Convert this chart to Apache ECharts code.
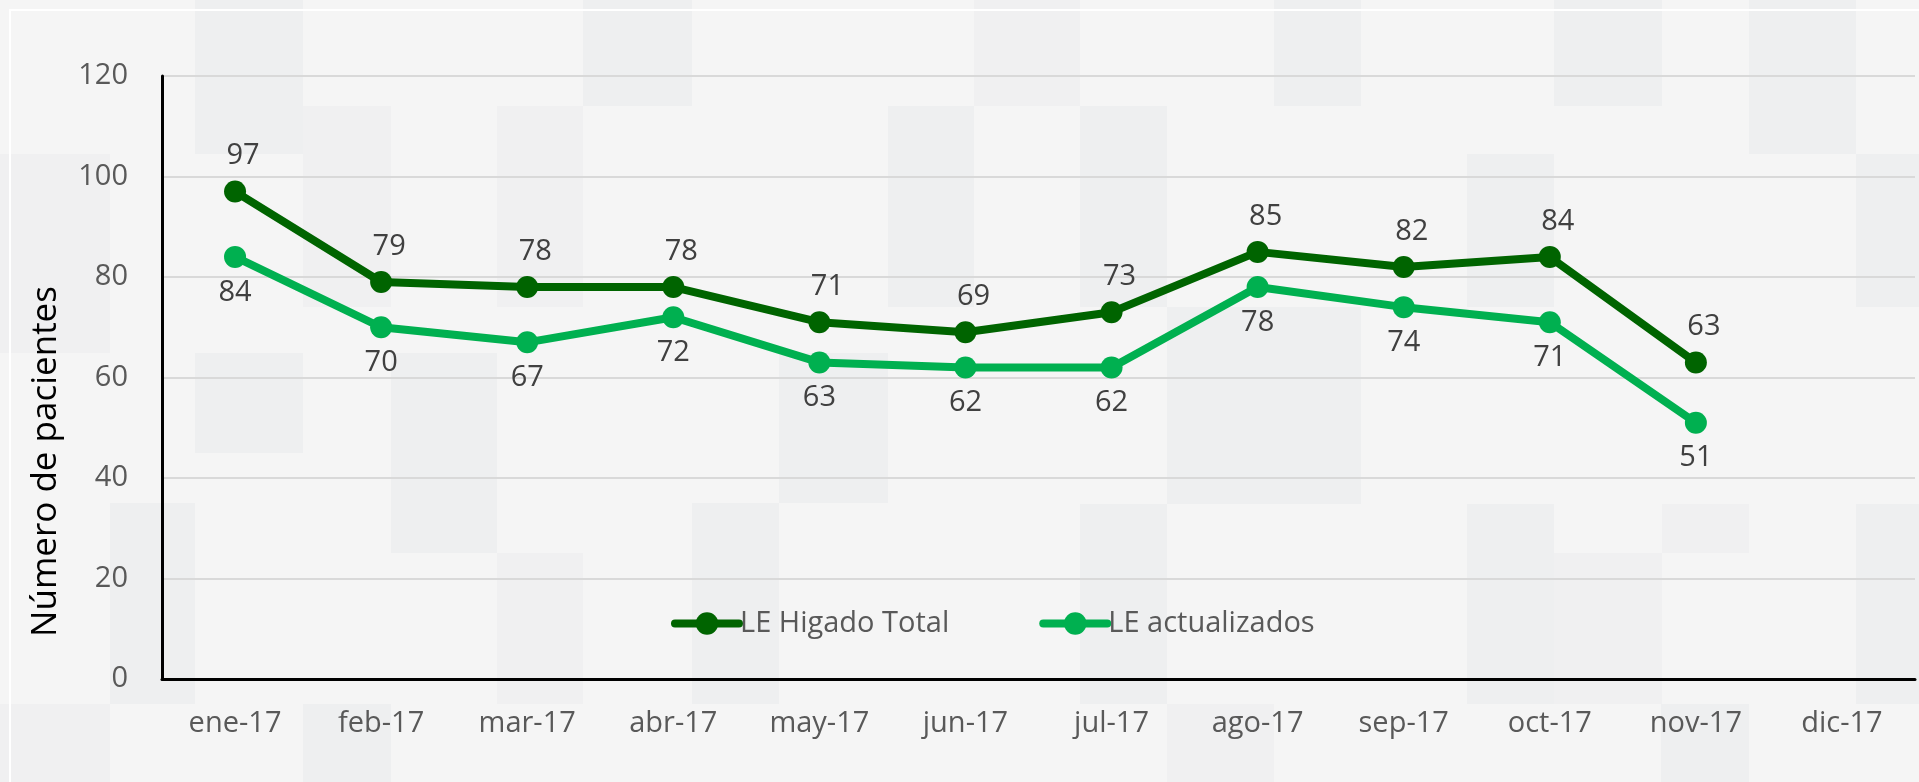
<!DOCTYPE html>
<html>
<head>
<meta charset="utf-8">
<script src="https://cdn.jsdelivr.net/npm/echarts@6/dist/echarts.min.js"></script>
<style>
  html, body { margin: 0; padding: 0; background: #f4f4f4; }
  #chart { width: 1919px; height: 782px; }
</style>
</head>
<body>
<div id="chart"></div>
<script>
// meses
const months = ['ene-17', 'feb-17', 'mar-17', 'abr-17', 'may-17', 'jun-17',
  'jul-17', 'ago-17', 'sep-17', 'oct-17', 'nov-17', 'dic-17']
// LE Higado Total
const higadoTotal = [97, 79, 78, 78, 71, 69, 73, 85, 82, 84, 63, null]
// LE actualizados
const actualizados = [84, 70, 67, 72, 63, 62, 62, 78, 74, 71, 51, null]
const yTicks = [0, 20, 40, 60, 80, 100, 120]

// textura de fondo (bloques grises), solo decorativo: [x, y, w, h, tono]
const mosaico = [
  [195, 0, 108, 154, 0], [583, 0, 109, 106, 0], [888, 106, 86, 201, 0],
  [497, 106, 86, 201, 1], [303, 106, 88, 201, 1], [0, 154, 110, 199, 1],
  [195, 353, 108, 100, 0], [391, 353, 106, 200, 0], [779, 353, 109, 150, 0],
  [110, 503, 85, 201, 0], [497, 553, 86, 151, 1], [692, 503, 87, 201, 0],
  [303, 704, 88, 78, 0], [0, 704, 110, 78, 1],
  [974, 0, 106, 106, 1], [1274, 0, 87, 106, 0], [1554, 0, 108, 106, 0],
  [1749, 0, 107, 154, 0], [1080, 106, 87, 201, 0], [1467, 154, 87, 153, 0],
  [1856, 154, 63, 153, 0], [1167, 307, 194, 197, 0], [1080, 504, 87, 200, 0],
  [1467, 504, 87, 200, 0], [1662, 504, 87, 49, 1], [1856, 504, 63, 200, 0],
  [1554, 553, 108, 151, 1], [1167, 704, 107, 78, 1], [1661, 704, 88, 78, 0]
]
const tonos = ['#eeeff0', '#f0f0f1']

const font = '"Open Sans", sans-serif'
const chart = echarts.init(document.getElementById('chart'))

const fondo = mosaico.map(b => ({
  type: 'rect',
  shape: { x: b[0], y: b[1], width: b[2], height: b[3] },
  style: { fill: tonos[b[4]] },
  silent: true,
  z: -10
}))
// borde blanco del área del gráfico
fondo.push({
  type: 'rect', shape: { x: 10, y: 10, width: 1940, height: 800 },
  style: { fill: 'none', stroke: '#ffffff', lineWidth: 2 }, silent: true, z: -9
})

chart.setOption({
  backgroundColor: '#f5f5f5',
  animation: false,
  textStyle: { fontFamily: font },
  graphic: fondo,
  grid: { left: 162, right: 4, top: 76, bottom: 103 },
  legend: {
    left: 666,
    top: 604,
    itemWidth: 64,
    itemHeight: 28,
    itemGap: 90,
    lineStyle: { width: 8, cap: 'round' },
    textStyle: { color: '#595959', fontSize: 29, fontFamily: font, padding: [0, 0, 0, -4] },
    data: ['LE Higado Total', 'LE actualizados']
  },
  xAxis: {
    type: 'category',
    data: months,
    boundaryGap: true,
    axisLine: { lineStyle: { color: '#000000', width: 3 } },
    axisTick: { show: false },
    axisLabel: { color: '#595959', fontSize: 29, margin: 30 }
  },
  yAxis: {
    type: 'value',
    min: yTicks[0],
    max: yTicks[yTicks.length - 1],
    interval: 20,
    name: 'Número de pacientes',
    nameLocation: 'middle',
    nameGap: 98,
    nameTextStyle: { color: '#000000', fontSize: 35, padding: [0, 168, 0, 0] },
    axisLine: { show: true, lineStyle: { color: '#000000', width: 3 } },
    axisTick: { show: false },
    axisLabel: { color: '#595959', fontSize: 29, margin: 34 },
    splitLine: { lineStyle: { color: '#d9d9d9', width: 2 } }
  },
  series: [
    {
      name: 'LE Higado Total',
      type: 'line',
      data: higadoTotal,
      symbol: 'circle',
      symbolSize: 22,
      lineStyle: { color: '#006400', width: 8 },
      itemStyle: { color: '#006400' },
      label: { show: true, position: 'top', distance: 8, color: '#404040', fontSize: 29, offset: [8, -2] },
      z: 3
    },
    {
      name: 'LE actualizados',
      type: 'line',
      data: actualizados,
      symbol: 'circle',
      symbolSize: 22,
      lineStyle: { color: '#00b050', width: 8 },
      itemStyle: { color: '#00b050' },
      label: { show: true, position: 'bottom', distance: 10, color: '#404040', fontSize: 29 },
      z: 2
    }
  ]
})
window.addEventListener('resize', () => chart.resize())
</script>
</body>
</html>
